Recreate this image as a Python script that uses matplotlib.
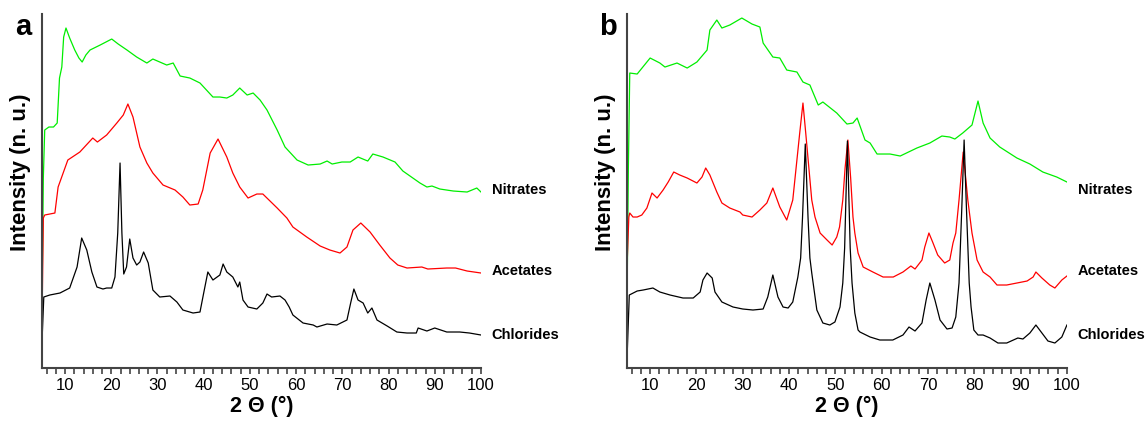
import matplotlib
matplotlib.use('Agg')
import matplotlib.pyplot as plt
from matplotlib.ticker import MultipleLocator

plt.rcParams['font.family'] = ['Liberation Sans', 'DejaVu Sans']

# panel a, 2theta / intensity (n. u.)
a_nit_x = [5.0, 5.3, 5.6, 6.5, 7.5, 8.3, 8.8, 9.3, 9.7, 10.2, 11.0, 12.1, 13.0, 13.7, 14.5,
           15.4, 17.6, 20.1, 21.5, 23.4, 25.5, 27.7, 29.0, 30.5, 32.0, 33.4, 34.9, 37.0, 39.2,
           42.0, 43.5, 45.0, 46.3, 47.8, 49.4, 50.7, 52.2, 53.7, 55.9, 57.6, 60.2, 62.6, 65.2,
           66.7, 67.8, 69.9, 71.7, 73.4, 75.5, 76.6, 78.8, 81.4, 83.1, 86.8, 88.3, 89.4, 91.1,
           94.0, 97.0, 99.1, 100.0]
a_nit_y = [60, 190, 238, 241, 241, 245, 290, 301, 331, 340, 330, 318, 310, 306, 313,
           318, 323, 329, 324, 318, 311, 305, 309, 306, 303, 305, 292, 290, 285,
           271, 271, 270, 273, 280, 273, 275, 268, 258, 238, 221, 208, 203, 204,
           207, 204, 206, 206, 211, 207, 214, 211, 206, 197, 185, 181, 182, 179,
           177, 176, 180, 176]

a_ace_x = [5.0, 5.3, 5.6, 7.8, 8.5, 10.6, 13.2, 16.0, 17.0, 19.0, 21.2, 22.6, 23.6, 24.7,
           26.2, 27.7, 29.0, 31.2, 33.8, 35.5, 37.0, 38.8, 39.8, 41.4, 43.1, 45.0, 46.3,
           47.8, 49.6, 51.5, 52.8, 55.9, 58.0, 59.3, 62.3, 65.2, 67.3, 69.5, 71.0, 72.3,
           74.0, 76.0, 78.1, 80.3, 82.0, 84.0, 87.2, 88.5, 92.6, 94.5, 97.0, 100.0]
a_ace_y = [40, 150, 153, 155, 181, 208, 216, 230, 226, 233, 245, 253, 264, 251,
           221, 205, 195, 183, 178, 171, 163, 164, 178, 215, 229, 211, 195,
           181, 170, 174, 174, 160, 150, 141, 131, 122, 118, 115, 121, 138,
           145, 136, 123, 110, 103, 100, 101, 99, 100, 100, 97, 95]

a_chl_x = [5.0, 5.4, 6.7, 8.9, 11.0, 12.6, 13.6, 14.7, 15.8, 16.9, 18.2, 19.0, 20.1, 20.8,
           21.4, 21.9, 22.3, 22.7, 23.3, 24.0, 24.7, 25.5, 26.2, 27.0, 28.0, 29.0, 30.5,
           32.7, 34.2, 35.5, 37.7, 39.2, 40.0, 40.9, 42.0, 43.5, 44.2, 45.0, 46.3, 47.4,
           47.8, 48.5, 49.6, 51.5, 52.8, 53.7, 54.7, 56.5, 57.6, 58.5, 59.3, 61.5, 63.7,
           64.5, 66.7, 68.8, 71.0, 71.8, 72.5, 73.4, 74.5, 75.5, 76.4, 77.5, 79.7, 81.8,
           84.0, 86.0, 86.4, 88.3, 90.0, 92.6, 95.4, 97.5, 100.0]
a_chl_y = [25, 71, 73, 75, 80, 101, 130, 118, 96, 81, 79, 80, 80, 91,
           135, 205, 135, 94, 101, 129, 110, 103, 106, 116, 105, 78, 71,
           72, 66, 58, 55, 56, 75, 96, 88, 93, 104, 96, 91, 81,
           86, 68, 61, 59, 65, 74, 71, 72, 68, 61, 53, 45, 43,
           41, 44, 43, 48, 65, 79, 68, 65, 55, 60, 48, 42, 36,
           35, 35, 40, 37, 40, 36, 36, 35, 33]

# panel b
b_nit_x = [5.0, 5.3, 5.6, 7.2, 10.0, 12.1, 13.2, 15.8, 18.0, 20.1, 22.3, 22.9, 24.4, 25.5,
           27.2, 29.8, 32.0, 33.7, 34.4, 36.5, 38.0, 39.5, 41.7, 43.0, 44.5, 46.3, 47.3,
           50.3, 52.5, 53.8, 54.7, 56.4, 57.5, 59.0, 61.8, 64.0, 67.6, 70.4, 73.0, 74.7,
           75.8, 77.5, 79.5, 80.8, 81.9, 83.4, 85.5, 89.2, 92.0, 94.8, 97.8, 100.0]
b_nit_y = [60, 200, 295, 294, 310, 305, 301, 305, 300, 306, 318, 338, 348, 340,
           343, 350, 344, 341, 325, 311, 310, 298, 296, 286, 283, 263, 266,
           255, 244, 245, 250, 228, 225, 214, 214, 212, 220, 225, 232, 231,
           229, 235, 243, 267, 245, 230, 221, 210, 204, 196, 191, 186]

b_ace_x = [5.0, 5.4, 5.6, 6.3, 7.2, 8.2, 9.3, 10.4, 11.5, 12.8, 13.9, 15.1, 16.4, 18.0,
           20.1, 21.2, 22.0, 22.9, 24.4, 25.5, 27.2, 29.4, 30.0, 32.0, 33.7, 35.2, 36.5,
           38.0, 39.5, 40.8, 42.3, 43.0, 43.6, 44.9, 45.6, 46.7, 48.2, 49.3, 50.3, 50.9,
           51.6, 52.1, 52.7, 53.3, 53.8, 54.2, 54.9, 56.0, 58.1, 60.3, 62.5, 64.6, 66.3,
           67.2, 68.7, 69.3, 70.2, 71.0, 72.1, 73.6, 74.7, 75.4, 76.0, 76.7, 77.6, 78.6,
           79.5, 80.6, 81.9, 83.4, 84.9, 87.0, 89.2, 91.4, 92.7, 93.3, 94.6, 96.3, 97.4,
           98.9, 100.0]
b_ace_y = [100, 151, 155, 151, 151, 153, 160, 175, 170, 178, 186, 196, 193, 190,
           185, 191, 200, 193, 176, 165, 160, 156, 153, 151, 158, 165, 180,
           161, 148, 168, 235, 265, 235, 168, 151, 135, 128, 123, 131, 141,
           168, 200, 228, 190, 151, 135, 115, 101, 96, 91, 91, 96, 102,
           99, 108, 121, 135, 126, 113, 105, 108, 125, 135, 168, 216, 168,
           135, 108, 96, 91, 83, 83, 85, 87, 91, 96, 90, 83, 80,
           88, 92]

b_chl_x = [5.0, 5.5, 7.2, 8.5, 10.6, 12.1, 14.3, 17.1, 19.3, 20.8, 21.4, 22.3, 23.4, 24.0,
           25.5, 27.9, 30.0, 32.2, 34.4, 35.4, 36.5, 37.6, 38.7, 39.8, 40.8, 41.9, 42.5,
           42.9, 43.5, 44.1, 44.5, 44.9, 46.0, 47.3, 48.8, 49.9, 51.0, 51.6, 52.0, 52.6,
           53.2, 53.6, 54.2, 54.9, 55.3, 57.5, 59.6, 62.4, 64.6, 65.9, 67.2, 68.7, 69.6,
           70.4, 71.5, 72.6, 74.1, 75.2, 76.0, 76.7, 77.3, 77.8, 78.3, 78.9, 79.3, 79.9,
           80.8, 81.9, 83.4, 85.1, 87.0, 89.4, 90.5, 92.0, 93.3, 94.6, 95.9, 97.4, 98.9,
           100.0]
b_chl_y = [8, 73, 77, 78, 80, 76, 73, 70, 70, 76, 88, 95, 90, 76,
           66, 61, 59, 58, 59, 71, 93, 71, 61, 60, 66, 91, 110,
           150, 224, 150, 110, 95, 58, 45, 43, 46, 61, 85, 120, 227,
           120, 85, 55, 38, 36, 31, 28, 28, 33, 41, 37, 45, 68,
           85, 68, 48, 39, 40, 51, 85, 160, 228, 160, 85, 61, 38,
           33, 33, 30, 25, 25, 30, 29, 35, 43, 35, 27, 25, 31,
           43]

series_names = ['Nitrates', 'Acetates', 'Chlorides']
series_colors = ['#00ee00', '#ff0000', 'black']
label_y_a = [178, 97, 33]
label_y_b = [178, 97, 33]

fig = plt.figure(figsize=(11.46, 4.25), dpi=100)
ax_a = fig.add_axes([0.0366, 0.1341, 0.3831, 0.8329])
ax_b = fig.add_axes([0.5471, 0.1341, 0.3839, 0.8329])


def style(ax, letter):
    ax.set_xlim(5, 100)
    ax.set_ylim(0, 354)
    ax.spines['top'].set_visible(False)
    ax.spines['right'].set_visible(False)
    for s in ['left', 'bottom']:
        ax.spines[s].set_color('#444444')
        ax.spines[s].set_linewidth(1.5)
    ax.set_yticks([])
    ax.xaxis.set_major_locator(MultipleLocator(10))
    ax.xaxis.set_minor_locator(MultipleLocator(2))
    ax.tick_params(axis='x', which='both', direction='out', length=4, width=1.2,
                   color='#444444', labelsize=12, pad=3)
    ax.set_xlabel('2 \u0398 (\u00b0)', fontsize=15.5, fontweight='bold', labelpad=2)
    ax.set_ylabel('Intensity (n. u.)', fontsize=16, fontweight='bold')
    ax.yaxis.set_label_coords(-0.026, 0.554)
    ax.text(-0.024, 0.962, letter, transform=ax.transAxes, fontsize=21,
            fontweight='bold', ha='right', va='center')


def plot_panel(ax, xs, ys, label_y):
    for x, y, name, c, ly in zip(xs, ys, series_names, series_colors, label_y):
        ax.plot(x, y, color=c, lw=0.9)
        ax.text(102.3, ly, name, fontsize=10.5, fontweight='bold', ha='left',
                va='center', clip_on=False)


plot_panel(ax_a, [a_nit_x, a_ace_x, a_chl_x], [a_nit_y, a_ace_y, a_chl_y], label_y_a)
plot_panel(ax_b, [b_nit_x, b_ace_x, b_chl_x], [b_nit_y, b_ace_y, b_chl_y], label_y_b)
style(ax_a, 'a')
style(ax_b, 'b')

plt.savefig('out.png', dpi=100)
